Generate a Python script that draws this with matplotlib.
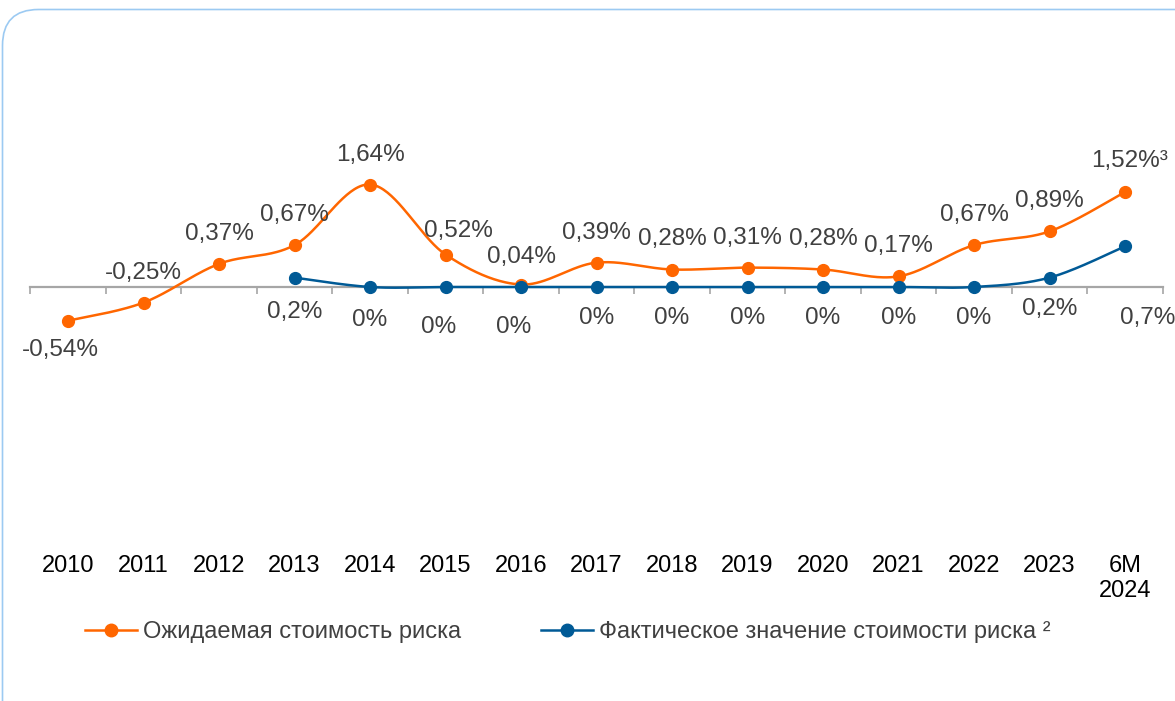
import matplotlib
matplotlib.use("Agg")
import matplotlib.pyplot as plt
import numpy as np
from matplotlib.patches import FancyBboxPatch
from matplotlib.transforms import IdentityTransform

plt.rcParams['font.family'] = ['Liberation Sans', 'DejaVu Sans']

# data
categories = ['2010', '2011', '2012', '2013', '2014', '2015', '2016', '2017',
              '2018', '2019', '2020', '2021', '2022', '2023', '6M\n2024']
expected = [-0.54, -0.25, 0.37, 0.67, 1.64, 0.52, 0.04, 0.39,
            0.28, 0.31, 0.28, 0.17, 0.67, 0.89, 1.52]
expected_labels = ['-0,54%', '-0,25%', '0,37%', '0,67%', '1,64%', '0,52%', '0,04%', '0,39%',
                   '0,28%', '0,31%', '0,28%', '0,17%', '0,67%', '0,89%', '1,52%\u00b3']
actual_start = 3  # series starts in 2013
actual = [0.15, 0.0, 0.0, 0.0, 0.0, 0.0, 0.0, 0.0, 0.0, 0.0, 0.15, 0.65]
actual_labels = ['0,2%', '0%', '0%', '0%', '0%', '0%', '0%', '0%', '0%', '0%', '0,2%', '0,7%']
legend_expected = 'Ожидаемая стоимость риска'
legend_actual = 'Фактическое значение стоимости риска \u00b2'

ORANGE = '#ff6600'
BLUE = '#005a96'
GREY_TXT = '#404040'
AXIS = '#a6a6a6'

# label offsets in pixels (dx, dy)
exp_off = [(-8, -29)] + [(0, 30)] * 4 + [(13, 23)] + [(0, 28)] + [(0, 30)] * 7 + [(5, 31)]
act_off = [(0, -34), (0, -33), (-7, -40), (-7, -40)] + [(0, -31)] * 7 + [(23, -72)]


def smooth(xs, ys, n=40):
    # excel-like smoothed line (bezier through points)
    pts = np.column_stack([xs, ys]).astype(float)
    out = []
    for i in range(len(pts) - 1):
        p0 = pts[i - 1] if i > 0 else pts[i]
        p1, p2 = pts[i], pts[i + 1]
        p3 = pts[i + 2] if i + 2 < len(pts) else pts[i + 1]
        c1 = p1 + (p2 - p0) / 6
        c2 = p2 - (p3 - p1) / 6
        t = np.linspace(0, 1, n)[:, None]
        seg = (1 - t) ** 3 * p1 + 3 * (1 - t) ** 2 * t * c1 + 3 * (1 - t) * t ** 2 * c2 + t ** 3 * p2
        out.append(seg if i == 0 else seg[1:])
    return np.vstack(out)


W, H = 1175, 701
fig = plt.figure(figsize=(W / 100, H / 100), dpi=100)
ax = fig.add_axes([30.25 / W, (H - 537) / H, 1132.5 / W, 500 / H])
ax.set_xlim(-0.5, len(categories) - 0.5)
ax.set_ylim(-4, 4)

x_exp = np.arange(len(categories))
x_act = np.arange(actual_start, actual_start + len(actual))

c = smooth(x_exp, expected)
ax.plot(c[:, 0], c[:, 1], color=ORANGE, lw=1.8, zorder=3, solid_capstyle='round')
ax.plot(x_exp, expected, 'o', color=ORANGE, ms=8.5, zorder=3)
c = smooth(x_act, actual)
ax.plot(c[:, 0], c[:, 1], color=BLUE, lw=1.8, zorder=4, solid_capstyle='round')
ax.plot(x_act, actual, 'o', color=BLUE, ms=8.5, zorder=4)

for xi, yi, lab, off in zip(x_exp, expected, expected_labels, exp_off):
    ax.annotate(lab, (xi, yi), xytext=off, textcoords='offset pixels',
                ha='center', va='center', fontsize=17.5, color=GREY_TXT)
for xi, yi, lab, off in zip(x_act, actual, actual_labels, act_off):
    ax.annotate(lab, (xi, yi), xytext=off, textcoords='offset pixels',
                ha='center', va='center', fontsize=17.5, color=GREY_TXT)

# axis line at zero with boundary ticks
for s in ['left', 'right', 'top']:
    ax.spines[s].set_visible(False)
ax.spines['bottom'].set_position(('data', 0))
ax.spines['bottom'].set_color(AXIS)
ax.spines['bottom'].set_linewidth(1.6)
ax.set_xticks(np.arange(-0.5, len(categories), 1))
ax.set_xticklabels([])
ax.tick_params(axis='x', direction='out', length=5, width=1.2, color=AXIS)
ax.set_yticks([])
ax.patch.set_visible(False)

sec = ax.secondary_xaxis(location=0)
sec.set_xticks(x_exp, categories)
sec.tick_params(length=0, pad=13, labelsize=17, labelcolor='black')
sec.spines['bottom'].set_visible(False)

# legend, one entry each
h1, = ax.plot([], [], '-o', color=ORANGE, lw=1.8, ms=9)
h2, = ax.plot([], [], '-o', color=BLUE, lw=1.8, ms=9)
for h, lab, xpx in [(h1, legend_expected, 85), (h2, legend_actual, 541)]:
    fig.legend([h], [lab], loc='center left', bbox_to_anchor=(xpx / W, (H - 632) / H),
               frameon=False, borderpad=0, borderaxespad=0, fontsize=17,
               handlelength=2.2, handletextpad=0.25, labelcolor=GREY_TXT)

# rounded frame (only the top-left corner falls inside the picture)
frame = FancyBboxPatch((2.5, -80), 1300, 771.5, boxstyle='round,pad=0,rounding_size=36',
                       transform=IdentityTransform(), fill=False, edgecolor='#9ccaf2', lw=1.2)
fig.add_artist(frame)

fig.savefig('out.png', dpi=100)
